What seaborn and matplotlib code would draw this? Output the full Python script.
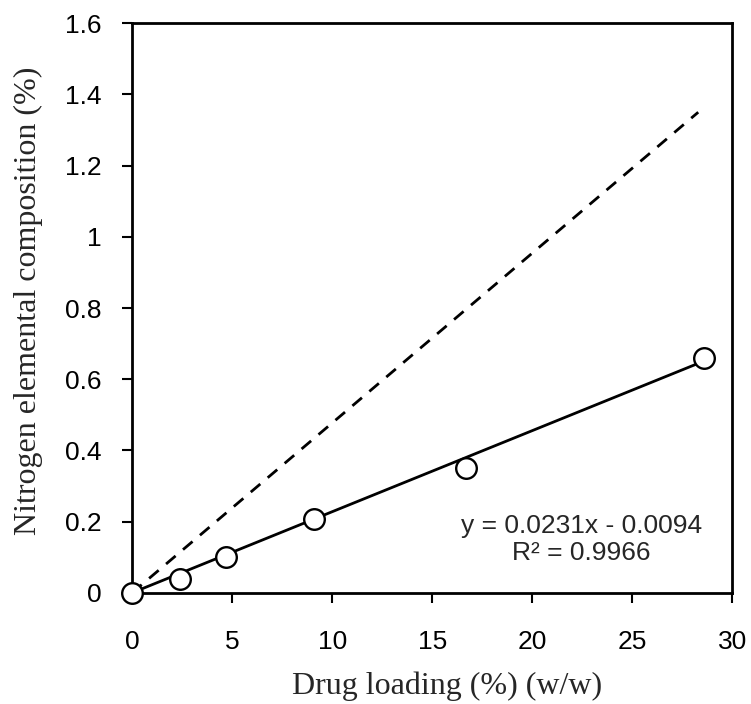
import matplotlib
matplotlib.use('Agg')
import matplotlib.pyplot as plt
import numpy as np
import pandas as pd
import seaborn as sns

# 数据
drug_loading = [0, 2.4, 4.7, 9.1, 16.7, 28.6]
nitrogen = [0, 0.04, 0.10, 0.208, 0.35, 0.66]
# 理论线 (虚线)
theory_x = [0, 28.3]
theory_y = [0, 1.35]
# 线性拟合
slope = 0.0231
intercept = -0.0094
r2 = 0.9966

sns.set_style('white')
plt.rcParams['font.family'] = ['Liberation Sans', 'DejaVu Sans']

df = pd.DataFrame({'x': drug_loading, 'y': nitrogen})
fit_x = np.array([0.4, max(drug_loading)])
fit_df = pd.DataFrame({'x': fit_x, 'y': slope * fit_x + intercept})
fit_df.loc[0] = [0, 0]
theory_df = pd.DataFrame({'x': theory_x, 'y': theory_y})

fig = plt.figure(figsize=(7.51, 7.04), dpi=100)
ax = fig.add_axes([0.176, 0.158, 0.799, 0.809])

sns.lineplot(data=theory_df, x='x', y='y', ax=ax, color='black', lw=2,
             linestyle=(0, (4.5, 3.5)))
sns.lineplot(data=fit_df, x='x', y='y', ax=ax, color='black', lw=2)
sns.scatterplot(data=df, x='x', y='y', ax=ax, marker='o', s=220,
                facecolor='white', edgecolor='black', linewidth=1.7, zorder=5,
                clip_on=False)

ax.set_xlim(0, 30)
ax.set_ylim(0, 1.6)
ax.set_xticks(range(0, 31, 5))
ax.set_yticks([0, 0.2, 0.4, 0.6, 0.8, 1.0, 1.2, 1.4, 1.6])
ax.set_yticklabels(['0', '0.2', '0.4', '0.6', '0.8', '1', '1.2', '1.4', '1.6'])
ax.tick_params(axis='both', direction='out', length=7, width=1.5,
               labelsize=19, bottom=True, left=True, colors='black')
ax.tick_params(axis='x', pad=20)
ax.tick_params(axis='y', pad=15)
for s in ax.spines.values():
    s.set_color('black')
    s.set_linewidth(2)

ax.set_xlabel('Drug loading (%) (w/w)', fontfamily='Liberation Serif', fontsize=23)
ax.set_ylabel('Nitrogen elemental composition (%)', fontfamily='Liberation Serif',
              fontsize=23)
ax.xaxis.set_label_coords(0.524, -0.138)
ax.yaxis.set_label_coords(-0.148, 0.513)

ax.text(22.45, 0.15, 'y = %.4fx - %.4f\nR² = %.4f' % (slope, -intercept, r2),
        ha='center', va='center', fontsize=19, multialignment='center',
        linespacing=1.15)

fig.savefig('out.png', dpi=100, facecolor='white')
